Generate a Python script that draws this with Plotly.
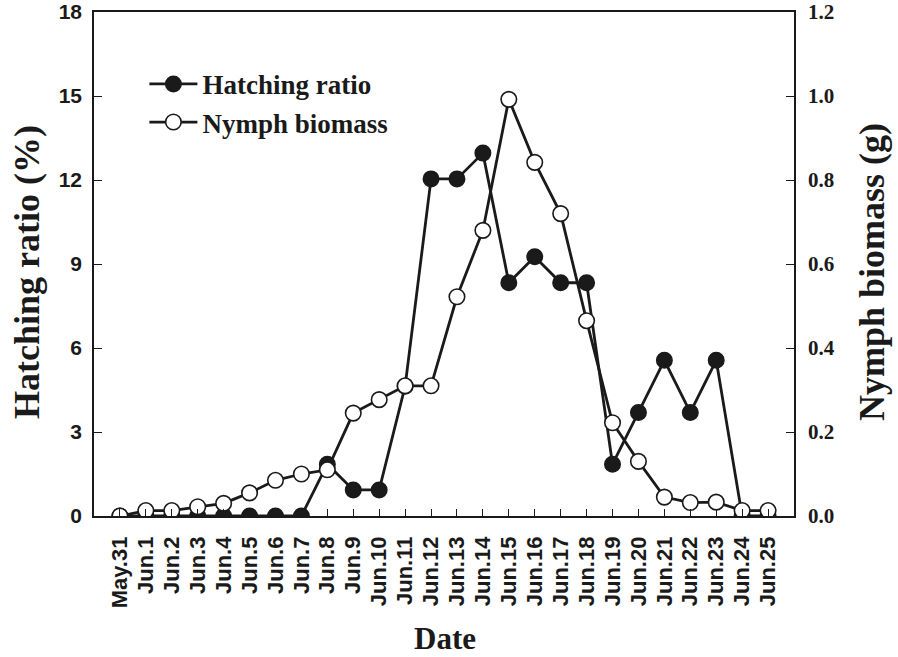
import plotly.graph_objects as go

dates = ["May.31"] + [f"Jun.{i}" for i in range(1, 26)]
hatching_ratio = [0, 0, 0, 0, 0, 0, 0, 0, 1.85, 0.93, 0.93, 4.63, 12.04, 12.04, 12.96,
                  8.33, 9.26, 8.33, 8.33, 1.85, 3.70, 5.56, 3.70, 5.56, 0, 0]
nymph_biomass = [0, 0.013, 0.013, 0.022, 0.03, 0.055, 0.085, 0.10, 0.11, 0.245, 0.277,
                 0.31, 0.31, 0.522, 0.68, 0.992, 0.842, 0.72, 0.465, 0.222, 0.13,
                 0.045, 0.032, 0.033, 0.013, 0.013]
left_ticks = [0, 3, 6, 9, 12, 15, 18]
right_ticks = [0.0, 0.2, 0.4, 0.6, 0.8, 1.0, 1.2]

x = list(range(len(dates)))
INK = "#1a1a1a"
SERIF = "Liberation Serif"
SANS = "Liberation Sans"

fig = go.Figure()
fig.add_trace(go.Scatter(
    x=x, y=hatching_ratio, name="Hatching ratio", mode="lines+markers",
    line=dict(color=INK, width=2.8),
    marker=dict(symbol="circle", size=15.5, color=INK, line=dict(color=INK, width=1.5)),
    yaxis="y"))
fig.add_trace(go.Scatter(
    x=x, y=nymph_biomass, name="Nymph biomass", mode="lines+markers",
    line=dict(color=INK, width=2.8),
    marker=dict(symbol="circle", size=15.5, color="white", line=dict(color=INK, width=1.6)),
    yaxis="y2"))

fig.update_layout(
    width=898, height=657,
    margin=dict(l=94, r=104, t=12, b=141, autoexpand=False),
    paper_bgcolor="white", plot_bgcolor="white",
    showlegend=True,
    legend=dict(x=0.072, y=0.905, xanchor="left", yanchor="top",
                bgcolor="rgba(0,0,0,0)", itemwidth=48,
                font=dict(family=SERIF, size=27, color=INK, weight="bold")),
    xaxis=dict(
        range=[-1, 26], tickmode="array", tickvals=x, ticktext=dates,
        tickangle=-90, ticks="inside", ticklen=7, tickwidth=1.3, tickcolor=INK,
        showline=True, linecolor=INK, linewidth=1.5, mirror=True,
        showgrid=False, zeroline=False, automargin=False, ticklabelstandoff=10,
        tickfont=dict(family=SANS, size=22, color=INK, weight="bold")),
    yaxis=dict(
        range=[0, 18], tickmode="array", tickvals=left_ticks,
        ticks="inside", ticklen=8, tickwidth=1.3, tickcolor=INK,
        showline=True, linecolor=INK, linewidth=1.5,
        showgrid=False, zeroline=False, ticklabelstandoff=6, automargin=False,
        tickfont=dict(family=SANS, size=21, color=INK, weight="bold")),
    yaxis2=dict(
        range=[0, 1.2], tickmode="array", tickvals=right_ticks, tickformat=".1f",
        overlaying="y", side="right",
        ticks="inside", ticklen=8, tickwidth=1.3, tickcolor=INK,
        showline=True, linecolor=INK, linewidth=1.5,
        showgrid=False, zeroline=False, ticklabelstandoff=8, automargin=False,
        tickfont=dict(family=SERIF, size=21, color=INK, weight="bold")),
)

fig.add_annotation(text="Hatching ratio (%)", xref="paper", yref="paper",
                   x=-94/700 + 27/700, y=(516-272)/504, textangle=-90, showarrow=False,
                   xanchor="center", yanchor="middle",
                   font=dict(family=SERIF, size=36, color=INK, weight="bold"))
fig.add_annotation(text="Nymph biomass (g)", xref="paper", yref="paper",
                   x=(872-94)/700, y=(516-272)/504, textangle=-90, showarrow=False,
                   xanchor="center", yanchor="middle",
                   font=dict(family=SERIF, size=36, color=INK, weight="bold"))
fig.add_annotation(text="Date", xref="paper", yref="paper",
                   x=(445-94)/700, y=-(638-516)/504, showarrow=False,
                   xanchor="center", yanchor="middle",
                   font=dict(family=SERIF, size=31, color=INK, weight="bold"))

fig.write_html("out.html", config={"displayModeBar": False},
               post_script="document.body.style.margin='0';document.body.style.overflow='hidden';")
